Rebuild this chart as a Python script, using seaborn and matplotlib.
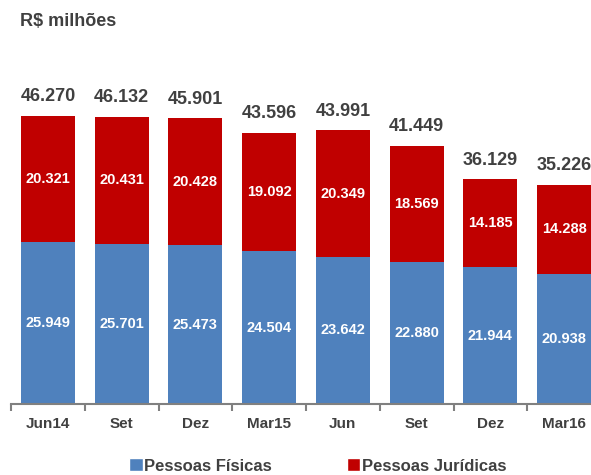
import matplotlib
matplotlib.use("Agg")
import matplotlib.pyplot as plt
import seaborn as sns
import pandas as pd
import numpy as np
from matplotlib.patches import Patch

periods = ["Jun14", "Set", "Dez", "Mar15", "Jun", "Set", "Dez", "Mar16"]
pessoas_fisicas = [25949, 25701, 25473, 24504, 23642, 22880, 21944, 20938]
pessoas_juridicas = [20321, 20431, 20428, 19092, 20349, 18569, 14185, 14288]
totais = [46270, 46132, 45901, 43596, 43991, 41449, 36129, 35226]

sns.set_theme(style="white")
plt.rcParams["font.family"] = ["Liberation Sans", "DejaVu Sans"]

blue = "#4F81BD"
red = "#C00000"
dark = "#404040"

df = pd.DataFrame({
    "pos": list(range(len(periods))),
    "pf": pessoas_fisicas,
    "total": totais,
})

fig = plt.figure(figsize=(5.91, 4.75), dpi=100)
ax = fig.add_axes([11 / 591, 71 / 475, 590 / 591, 311.2 / 475])

sns.barplot(data=df, x="pos", y="total", color=red, width=0.73,
            saturation=1, ax=ax, linewidth=0)
sns.barplot(data=df, x="pos", y="pf", color=blue, width=0.73,
            saturation=1, ax=ax, linewidth=0)

ax.set_ylim(0, 50000)
ax.set_xlim(-0.5, len(periods) - 0.5)

for i, (pf, pj, t) in enumerate(zip(pessoas_fisicas, pessoas_juridicas, totais)):
    ax.text(i, pf / 2, f"{pf:,}".replace(",", "."), ha="center", va="center",
            color="white", fontsize=10.5, fontweight="bold")
    ax.text(i, pf + pj / 2, f"{pj:,}".replace(",", "."), ha="center", va="center",
            color="white", fontsize=10.5, fontweight="bold")
    ax.text(i, t + 1700, f"{t:,}".replace(",", "."), ha="center", va="bottom",
            color=dark, fontsize=13, fontweight="bold")

for s in ["top", "right", "left"]:
    ax.spines[s].set_visible(False)
ax.spines["bottom"].set_color("#808080")
ax.spines["bottom"].set_linewidth(1.5)
ax.set_yticks([])
ax.set_xlabel("")
ax.set_ylabel("")
ax.set_xticks(range(len(periods)))
ax.set_xticklabels(periods, fontsize=11, fontweight="bold", color=dark)
ax.tick_params(axis="x", which="major", length=0, pad=9)
ax.set_xticks(np.arange(-0.5, len(periods), 1.0), minor=True)
ax.tick_params(axis="x", which="minor", length=5, width=1.5, color="#808080",
               direction="out", bottom=True)

fig.text(20 / 591, 1 - 21 / 475, "R$ milhões", ha="left", va="center",
         fontsize=13, fontweight="bold", color=dark)

handles = [Patch(facecolor=blue, label="Pessoas Físicas"),
           Patch(facecolor=red, label="Pessoas Jurídicas")]
leg = fig.legend(handles=handles, loc="center", bbox_to_anchor=(318 / 591, 1 - 466 / 475),
                 ncol=2, frameon=False, handlelength=0.8, handleheight=0.8,
                 handletextpad=0.1, columnspacing=4.5,
                 prop={"weight": "bold", "size": 12})
for t in leg.get_texts():
    t.set_color(dark)

fig.savefig("out.png", dpi=100)
